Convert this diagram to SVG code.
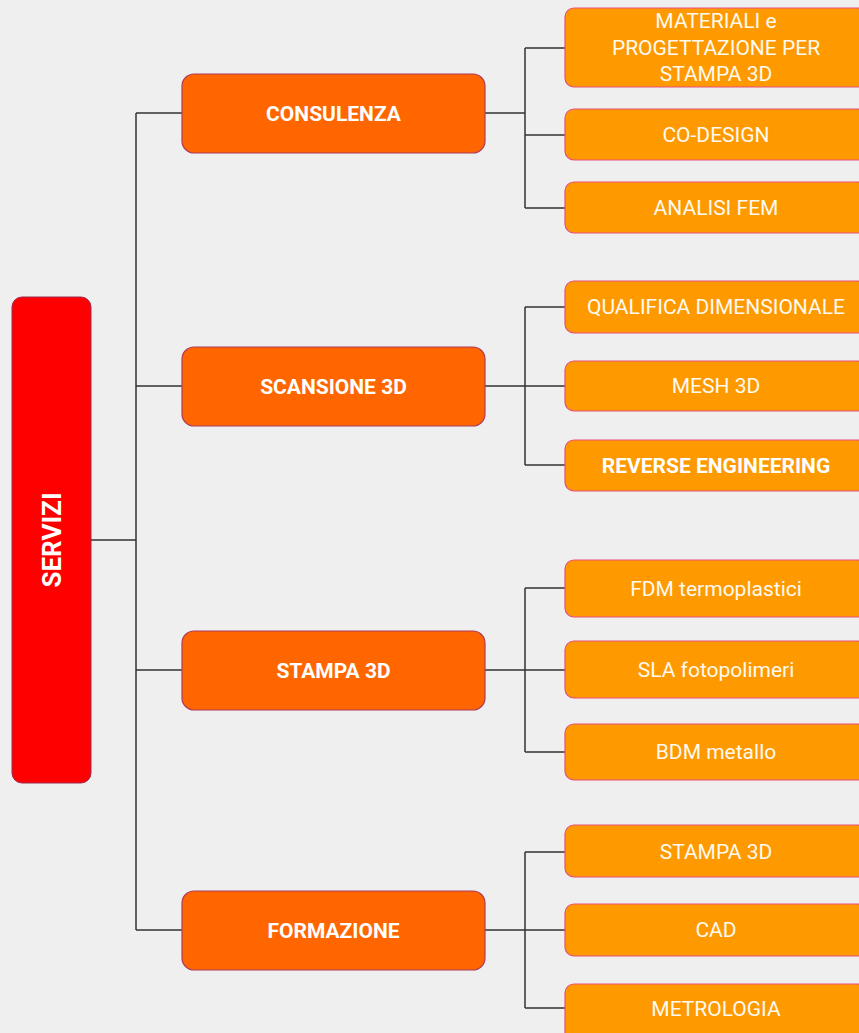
<svg xmlns="http://www.w3.org/2000/svg" width="859" height="1033" viewBox="0 0 859 1033">
<style>
.bg{fill:#efefef}
.root{fill:#ff0000;stroke:#9b2b50;stroke-width:1}
.mid{fill:#ff6600;stroke:#b03a5b;stroke-width:1.2}
.leaf{fill:#ff9900;stroke:#e8507a;stroke-width:1.2}
.t{font-family:Roboto,"Liberation Sans",sans-serif;font-size:21px;fill:#fffaf0;text-anchor:middle;dominant-baseline:central}
.b{font-weight:bold;fill:#ffffff}
.c{fill:none;stroke:#333333;stroke-width:1.5}
</style>
<rect class="bg" x="0" y="0" width="859" height="1033"/>
<g id="connectors">
<path class="c" d="M91 540H136M136 113V930M136 113H182M136 386H182M136 670H182M136 930H182"/>
<path class="c" d="M485 113H525M525 48V208M525 48H565M525 135H565M525 208H565"/>
<path class="c" d="M485 386H525M525 307V465M525 307H565M525 386H565M525 465H565"/>
<path class="c" d="M485 670H525M525 588V752M525 588H565M525 670H565M525 752H565"/>
<path class="c" d="M485 930H525M525 852V1008M525 852H565M525 930H565M525 1008H565"/>
</g>
<g id="servizi">
<rect class="root" x="12" y="297" width="79" height="486" rx="10"/>
<text class="t b" x="52" y="540" style="font-size:26px" transform="rotate(-90 52 540)">SERVIZI</text>
</g>
<g id="consulenza">
<rect class="mid" x="182" y="74" width="303" height="79" rx="12"/>
<text class="t b" x="333.5" y="113.5">CONSULENZA</text>
</g>
<g id="scansione">
<rect class="mid" x="182" y="347" width="303" height="79" rx="12"/>
<text class="t b" x="333.5" y="386.5">SCANSIONE 3D</text>
</g>
<g id="stampa">
<rect class="mid" x="182" y="631" width="303" height="79" rx="12"/>
<text class="t b" x="333.5" y="670.5">STAMPA 3D</text>
</g>
<g id="formazione">
<rect class="mid" x="182" y="891" width="303" height="79" rx="12"/>
<text class="t b" x="333.5" y="930.5">FORMAZIONE</text>
</g>
<g id="materiali">
<rect class="leaf" x="565" y="8" width="302" height="79" rx="9"/>
<text class="t" x="716" y="21">MATERIALI e</text>
<text class="t" x="716" y="48">PROGETTAZIONE PER</text>
<text class="t" x="716" y="74">STAMPA 3D</text>
</g>
<g id="codesign">
<rect class="leaf" x="565" y="109" width="302" height="51" rx="9"/>
<text class="t" x="716" y="135">CO-DESIGN</text>
</g>
<g id="analisifem">
<rect class="leaf" x="565" y="182" width="302" height="51" rx="9"/>
<text class="t" x="716" y="208">ANALISI FEM</text>
</g>
<g id="qualifica">
<rect class="leaf" x="565" y="281" width="302" height="52" rx="9"/>
<text class="t" x="716" y="307">QUALIFICA DIMENSIONALE</text>
</g>
<g id="mesh">
<rect class="leaf" x="565" y="361" width="302" height="50" rx="9"/>
<text class="t" x="716" y="386">MESH 3D</text>
</g>
<g id="reverse">
<rect class="leaf" x="565" y="440" width="302" height="51" rx="9"/>
<text class="t b" x="716" y="465.5">REVERSE ENGINEERING</text>
</g>
<g id="fdm">
<rect class="leaf" x="565" y="560" width="302" height="57" rx="9"/>
<text class="t" x="716" y="588.5">FDM termoplastici</text>
</g>
<g id="sla">
<rect class="leaf" x="565" y="641" width="302" height="57" rx="9"/>
<text class="t" x="716" y="669.5">SLA fotopolimeri</text>
</g>
<g id="bdm">
<rect class="leaf" x="565" y="724" width="302" height="56" rx="9"/>
<text class="t" x="716" y="752">BDM metallo</text>
</g>
<g id="fstampa">
<rect class="leaf" x="565" y="825" width="302" height="52" rx="9"/>
<text class="t" x="716" y="851.5">STAMPA 3D</text>
</g>
<g id="cad">
<rect class="leaf" x="565" y="904" width="302" height="52" rx="9"/>
<text class="t" x="716" y="930">CAD</text>
</g>
<g id="metrologia">
<rect class="leaf" x="565" y="984" width="302" height="60" rx="9"/>
<text class="t" x="716" y="1009">METROLOGIA</text>
</g>
</svg>
